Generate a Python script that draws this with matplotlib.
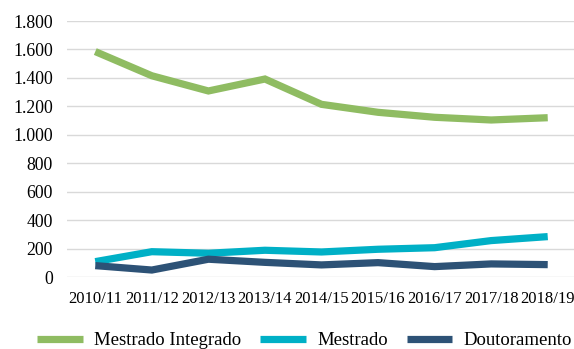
import matplotlib
matplotlib.use("Agg")
import matplotlib.pyplot as plt

years = ["2010/11", "2011/12", "2012/13", "2013/14", "2014/15",
         "2015/16", "2016/17", "2017/18", "2018/19"]
mestrado_integrado = [1585, 1415, 1308, 1392, 1214, 1158, 1123, 1104, 1120]
mestrado = [108, 178, 167, 188, 176, 195, 206, 256, 284]
doutoramento = [80, 49, 125, 103, 85, 101, 73, 92, 87]

plt.rcParams["font.family"] = ["Liberation Serif", "DejaVu Serif"]

fig = plt.figure(figsize=(5.74, 3.49), dpi=100)
ax = fig.add_axes([67 / 574, 72 / 349, 509 / 574, 256 / 349])

x = range(len(years))
style = dict(lw=5.2, solid_joinstyle="miter", solid_capstyle="butt")
ax.plot(x, mestrado_integrado, color="#8FBC62", label="Mestrado Integrado", **style)
ax.plot(x, mestrado, color="#00B0C6", label="Mestrado", **style)
ax.plot(x, doutoramento, color="#2D5276", label="Doutoramento", **style)

ax.set_xlim(-0.5, len(years) - 0.5)
ax.set_ylim(0, 1800)
yt = list(range(0, 1801, 200))
ax.set_yticks(yt)
ax.set_yticklabels([f"{v:,}".replace(",", ".") for v in yt], fontsize=12.8)
ax.set_xticks(list(x))
ax.set_xticklabels(years, fontsize=12)
ax.tick_params(axis="both", length=0)
ax.tick_params(axis="y", pad=10)
ax.tick_params(axis="x", pad=10)
ax.grid(axis="y", color="#D9D9D9", lw=1)
ax.set_axisbelow(True)
for s in ax.spines.values():
    s.set_visible(False)

fig.legend(loc="center", bbox_to_anchor=(0.5305, 0.024), ncol=3, frameon=False,
           fontsize=13.5, handlelength=2.45, columnspacing=1.0, handletextpad=0.6,
           borderpad=0.1)

fig.savefig("out.png", dpi=100)
